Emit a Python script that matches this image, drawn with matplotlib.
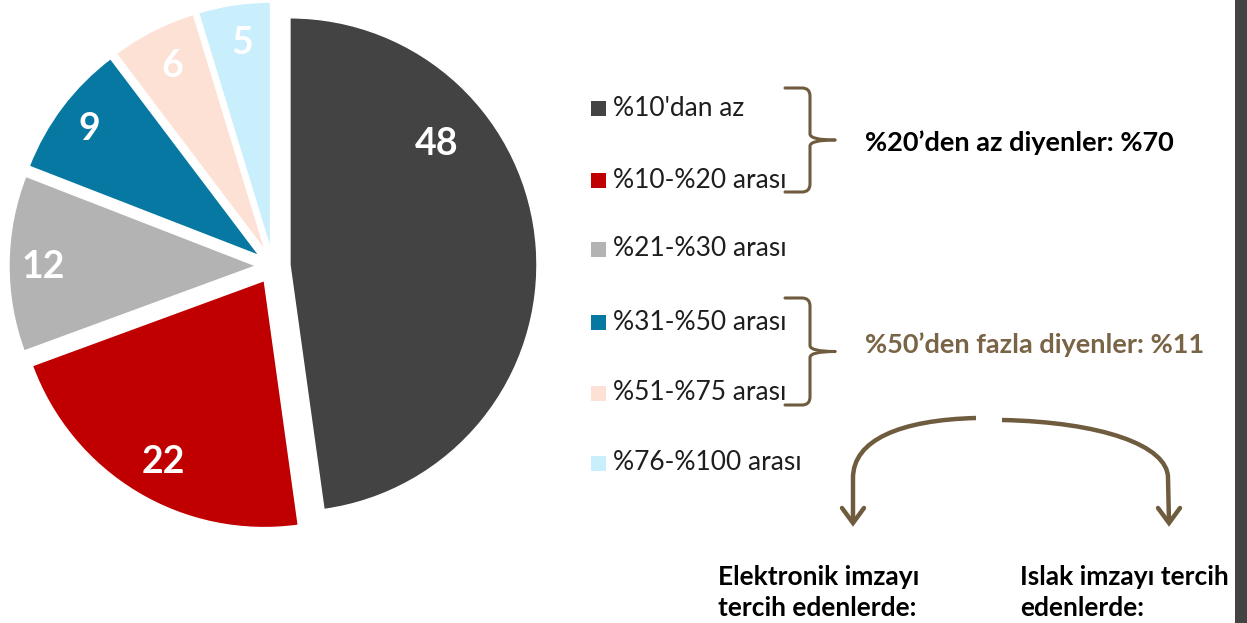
import matplotlib
matplotlib.use("Agg")
import matplotlib.pyplot as plt
from matplotlib.patches import Rectangle, PathPatch
from matplotlib.path import Path

plt.rcParams['font.family'] = ['Lato', 'DejaVu Sans']

# ---- data ----
categories = ["%10'dan az", "%10-%20 arası", "%21-%30 arası",
              "%31-%50 arası", "%51-%75 arası", "%76-%100 arası"]
# slice shares (unrounded)
shares = [47.8, 21.6, 11.5, 8.8, 5.6, 4.7]
# values printed on the slices
value_labels = [48, 22, 12, 9, 6, 5]
colors = ["#434343", "#C00000", "#B3B3B3", "#0778A1", "#FDE1D5", "#C9EEFC"]
group_texts = ["%20’den az diyenler: %70", "%50’den fazla diyenler: %11"]
bottom_texts = ["Elektronik imzayı\ntercih edenlerde:", "Islak imzayı tercih\nedenlerde:"]

W, H = 1247, 623
BROWN = "#6F5B3E"
BROWN_TXT = "#7A6446"

fig = plt.figure(figsize=(W / 100, H / 100), dpi=100)
ax = fig.add_axes([0, 0, 1, 1])

# pie in pixel coordinates (y axis inverted)
cx, cy, R = 273, 266, 247
gap = 17  # explode offset, in pixel units
wedges, _ = ax.pie(shares, colors=colors, startangle=-90, counterclock=True,
                   explode=[gap] * len(shares), radius=R, center=(cx, cy),
                   wedgeprops=dict(edgecolor="white", linewidth=1))
ax.set_xlim(0, W)
ax.set_ylim(H, 0)
ax.set_aspect("equal")
ax.axis("off")

# value labels
label_pos = [(437, 144), (163, 462), (43, 267), (89, 129), (172, 66), (242, 43)]
for v, (x, y) in zip(value_labels, label_pos):
    ax.text(x, y, str(v), color="white", fontsize=27, fontweight="bold",
            ha="center", va="center")

# legend
leg_y = [108, 180, 249, 322, 393, 463]
for lab, col, y in zip(categories, colors, leg_y):
    ax.add_patch(Rectangle((591, y - 7.5), 15, 15, facecolor=col, edgecolor="none"))
    ax.text(613, y, lab, fontsize=19, color="#1E1E1E", ha="left", va="center")

# braces
def brace(x0, y0, y1, xv, xt):
    ym = (y0 + y1) / 2
    r = 8
    p = Path([(x0, y0), (xv - r, y0), (xv, y0), (xv, y0 + r), (xv, ym - 6),
              (xv, ym), (xt, ym)],
             [Path.MOVETO, Path.LINETO, Path.CURVE3, Path.CURVE3, Path.LINETO,
              Path.CURVE3, Path.CURVE3])
    q = Path([(xt, ym), (xv, ym), (xv, ym + 6), (xv, y1 - r), (xv, y1),
              (xv - r, y1), (x0, y1)],
             [Path.MOVETO, Path.CURVE3, Path.CURVE3, Path.LINETO, Path.CURVE3,
              Path.CURVE3, Path.LINETO])
    for pp in (p, q):
        ax.add_patch(PathPatch(pp, facecolor="none", edgecolor=BROWN, lw=2.2,
                               capstyle="round", joinstyle="round"))

brace(785, 88, 192, 810, 835)
brace(785, 298, 405, 810, 835)

ax.text(865, 143, group_texts[0], fontsize=19.5, fontweight="bold", color="black",
        ha="left", va="center")
ax.text(865, 345, group_texts[1], fontsize=19.5, fontweight="bold", color=BROWN_TXT,
        ha="left", va="center")

# curved arrows
left = Path([(976, 418), (900, 420), (853, 440), (853, 478), (853, 522)],
            [Path.MOVETO, Path.CURVE4, Path.CURVE4, Path.CURVE4, Path.LINETO])
right = Path([(1002, 420), (1100, 422), (1168, 445), (1168, 478), (1169, 522)],
             [Path.MOVETO, Path.CURVE4, Path.CURVE4, Path.CURVE4, Path.LINETO])
for pth in (left, right):
    ax.add_patch(PathPatch(pth, facecolor="none", edgecolor=BROWN, lw=3.2,
                           capstyle="butt"))
for (tx, ty) in [(853, 523), (1169, 523)]:
    ax.plot([tx - 11, tx, tx + 11], [ty - 15, ty, ty - 15], color=BROWN, lw=3.2,
            solid_capstyle="round", solid_joinstyle="miter")

# bottom texts
for x0, txt in zip([718, 1020], bottom_texts):
    l1, l2 = txt.split("\n")
    ax.text(x0, 577, l1, fontsize=19, fontweight="bold", color="black",
            ha="left", va="center")
    ax.text(x0, 608, l2, fontsize=19, fontweight="bold", color="black",
            ha="left", va="center")

# right edge dark bar
ax.add_patch(Rectangle((1235, 0), 12, H, facecolor="#434343", edgecolor="none"))

fig.savefig("out.png", dpi=100)
